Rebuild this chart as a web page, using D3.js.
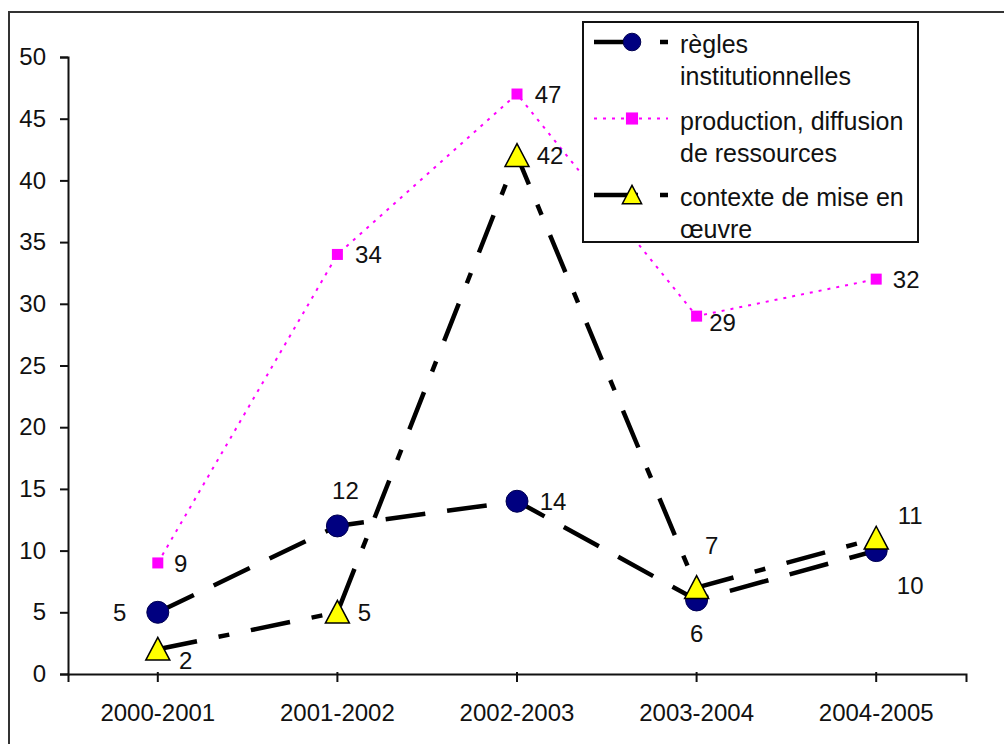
<!DOCTYPE html>
<html>
<head>
<meta charset="utf-8">
<script src="https://cdn.jsdelivr.net/npm/d3@7"></script>
<style>
  body { margin: 0; background: #fff; }
  svg { display: block; font-family: "Liberation Sans", Arial, sans-serif; }
  text { fill: #111; font-size: 24px; }
</style>
</head>
<body>
<svg id="canvas" width="1004" height="744"></svg>
<script>
// Data
const years = ["2000-2001", "2001-2002", "2002-2003", "2003-2004", "2004-2005"];
const regles = [5, 12, 14, 6, 10];
const production = [9, 34, 47, 29, 32];
const contexte = [2, 5, 42, 7, 11];
const yTicks = [0, 5, 10, 15, 20, 25, 30, 35, 40, 45, 50];

// Where each value label sits around its point (dx, dy)
const reglesLabelPos = [[-38, 0], [8, -36], [36, 0], [0, 33], [34, 35]];
const productionLabelPos = [[23, 0], [31, 0], [31, 0], [26, 6], [30, 0]];
const contexteLabelPos = [[28, 11], [27, 0], [33, 0], [15, -42], [34, -23]];

const svg = d3.select("#canvas");
const w = +svg.attr("width");
const h = +svg.attr("height");
const [mt, mr, mb, ml] = [57, 38, 70, 68];

// Outer frame of the picture
svg.append("rect")
  .attr("x", 9).attr("y", 12)
  .attr("width", w + 20).attr("height", h + 20)
  .attr("fill", "none").attr("stroke", "#333").attr("stroke-width", 2);

const x = d3.scaleBand().domain(years).range([ml, w - mr]);
const y = d3.scaleLinear().domain([0, 50]).range([h - mb, mt]);
const cx = (i) => x(years[i]) + x.bandwidth() / 2;

// Axes
const yAxis = svg.append("g")
  .attr("transform", `translate(${ml},0)`)
  .call(d3.axisLeft(y).tickValues(yTicks).tickSize(8).tickPadding(14));
const xAxis = svg.append("g")
  .attr("transform", `translate(0,${h - mb})`)
  .call(d3.axisBottom(x).tickSize(8).tickPadding(22));
[xAxis, yAxis].forEach((a) => {
  a.select(".domain").attr("stroke", "#111").attr("stroke-width", 2);
  a.selectAll(".tick line").attr("stroke", "#111").attr("stroke-width", 2);
  a.selectAll(".tick text").attr("font-size", 24).attr("fill", "#111")
    .attr("font-family", "Liberation Sans, Arial, sans-serif");
});
// x ticks straddle the axis a bit
xAxis.selectAll(".tick line").attr("y1", -2);

const series = [
  { name: ["règles", "institutionnelles"], values: regles, labels: reglesLabelPos,
    stroke: "#000", width: 4.5, dash: "40,22", marker: "circle" },
  { name: ["production, diffusion", "de ressources"], values: production, labels: productionLabelPos,
    stroke: "#ff00ff", width: 2, dash: "3,6", marker: "square" },
  { name: ["contexte de mise en", "œuvre"], values: contexte, labels: contexteLabelPos,
    stroke: "#000", width: 4.5, dash: "40,22,11,22", marker: "triangle" },
];

const line = d3.line().x((d, i) => cx(i)).y((d) => y(d));

// Lines first, then markers on top
svg.selectAll("path.series")
  .data(series)
  .enter()
  .append("path")
  .attr("class", "series")
  .attr("d", (s) => line(s.values))
  .attr("fill", "none")
  .attr("stroke", (s) => s.stroke)
  .attr("stroke-width", (s) => s.width)
  .attr("stroke-dasharray", (s) => s.dash);

const drawMarker = (g, type, px, py, scale = 1) => {
  if (type === "circle") {
    g.append("circle").attr("cx", px).attr("cy", py).attr("r", 11 * scale)
      .attr("fill", "#000080").attr("stroke", "#000050").attr("stroke-width", 1);
  } else if (type === "square") {
    const s = 11 * scale;
    g.append("rect").attr("x", px - s / 2).attr("y", py - s / 2)
      .attr("width", s).attr("height", s).attr("fill", "#ff00ff");
  } else {
    const s = 12 * scale;
    g.append("path")
      .attr("d", `M${px},${py - s}L${px + s},${py + s * 0.9}L${px - s},${py + s * 0.9}Z`)
      .attr("fill", "#ffff00").attr("stroke", "#000").attr("stroke-width", 1.5);
  }
};

const marks = svg.append("g");
series.forEach((s) => {
  s.values.forEach((v, i) => drawMarker(marks, s.marker, cx(i), y(v)));
});

// Value labels
series.forEach((s) => {
  svg.append("g")
    .selectAll("text")
    .data(s.values)
    .enter()
    .append("text")
    .attr("x", (d, i) => cx(i) + s.labels[i][0])
    .attr("y", (d, i) => y(d) + s.labels[i][1])
    .attr("dy", "0.36em")
    .attr("text-anchor", "middle")
    .text((d) => d);
});

// Legend
const legend = svg.append("g");
legend.append("rect")
  .attr("x", 583).attr("y", 22).attr("width", 335).attr("height", 220)
  .attr("fill", "#fff").attr("stroke", "#111").attr("stroke-width", 2);

const legendItem = legend.selectAll("g.item")
  .data(series)
  .enter()
  .append("g")
  .attr("class", "item")
  .attr("transform", (d, i) => `translate(0, ${42 + i * 76.5})`);

legendItem.append("line")
  .attr("x1", 594).attr("x2", 668).attr("y1", 0).attr("y2", 0)
  .attr("stroke", (s) => s.stroke)
  .attr("stroke-width", (s) => s.width)
  .attr("stroke-dasharray", (s) => (s.marker === "square" ? "3,6" : "44,22,8,40"));

legendItem.each(function (s) {
  drawMarker(d3.select(this), s.marker, 632, 0, s.marker === "square" ? 1.1 : 0.8);
});

legendItem.append("text")
  .attr("x", 680)
  .style("font-size", "25px")
  .selectAll("tspan")
  .data((s) => s.name)
  .enter()
  .append("tspan")
  .attr("x", 680)
  .attr("y", (d, i) => 11 + i * 32)
  .text((d) => d);
</script>
</body>
</html>
